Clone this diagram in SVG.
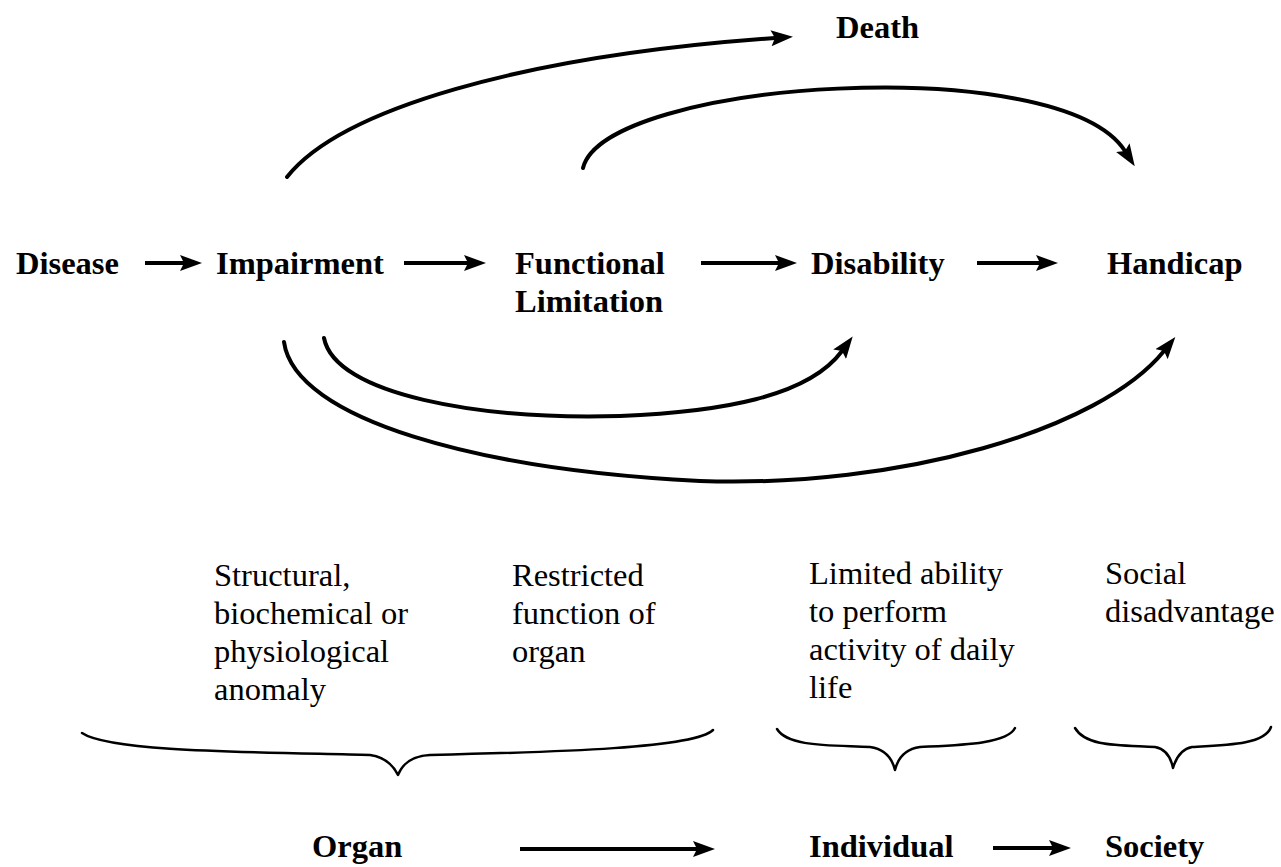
<svg xmlns="http://www.w3.org/2000/svg" width="1281" height="867" viewBox="0 0 1281 867">
<style>
.b{font-family:"Liberation Serif","Times New Roman",serif;font-weight:bold;font-size:32.5px;fill:#000}
.r{font-family:"Liberation Serif","Times New Roman",serif;font-size:32.5px;fill:#000}
.c{fill:none;stroke:#000;stroke-width:4;stroke-linecap:round}
.s{fill:none;stroke:#000;stroke-width:4}
.br{fill:none;stroke:#000;stroke-width:2.5;stroke-linecap:round;stroke-linejoin:round}
</style>
<defs>
<marker id="ah" viewBox="0 0 22 16" refX="4" refY="8" markerWidth="22" markerHeight="16" markerUnits="userSpaceOnUse" orient="auto">
<path d="M0,0 L22,8 L0,16 L4,8 z" fill="#000"/>
</marker>
</defs>
<rect width="1281" height="867" fill="#fff"/>
<g id="connectors">
<path class="c" d="M287,177 C340,110 520,56 775,38" marker-end="url(#ah)"/>
<path class="c" d="M583,168 C605,80 1060,50 1125,151" marker-end="url(#ah)"/>
<path class="c" d="M324,338 C335,395 480,420 620,416 C720,412 808,397 842,351" marker-end="url(#ah)"/>
<path class="c" d="M284,342 C295,420 480,470 700,481 C900,488 1100,430 1164,351" marker-end="url(#ah)"/>
<path class="s" d="M145,263 L184,263" marker-end="url(#ah)"/>
<path class="s" d="M404,263 L468,263" marker-end="url(#ah)"/>
<path class="s" d="M701,263 L779,263" marker-end="url(#ah)"/>
<path class="s" d="M977,263 L1040,263" marker-end="url(#ah)"/>
<path class="s" d="M520,849 L697,849" marker-end="url(#ah)"/>
<path class="s" d="M993,848 L1053,848" marker-end="url(#ah)"/>
</g>
<g id="braces">
<path class="br" d="M82,733 C110,752 250,752 370,755 C385,757 393,765 398,775 C403,763 412,756 430,755 C560,752 695,748 713,730"/>
<path class="br" d="M777,729 C788,747 830,745 870,747 C885,749 892,758 895,770 C898,758 905,749 920,747 C960,745 1007,744 1015,728"/>
<path class="br" d="M1075,728 C1086,747 1120,745 1155,747 C1166,749 1171,758 1173,768 C1176,758 1181,749 1192,747 C1230,745 1265,744 1271,727"/>
</g>
<g id="death"><text class="b" x="836" y="38">Death</text></g>
<g id="disease"><text class="b" x="16" y="274">Disease</text></g>
<g id="impairment"><text class="b" x="216" y="274">Impairment</text></g>
<g id="functional-limitation"><text class="b" x="515" y="274">Functional</text><text class="b" x="515" y="312">Limitation</text></g>
<g id="disability"><text class="b" x="811" y="274">Disability</text></g>
<g id="handicap"><text class="b" x="1107" y="274">Handicap</text></g>
<g id="desc-impairment"><text class="r" x="214" y="586">Structural,</text><text class="r" x="214" y="624">biochemical or</text><text class="r" x="214" y="662">physiological</text><text class="r" x="214" y="700">anomaly</text></g>
<g id="desc-functional"><text class="r" x="512" y="586">Restricted</text><text class="r" x="512" y="624">function of</text><text class="r" x="512" y="662">organ</text></g>
<g id="desc-disability"><text class="r" x="809" y="584">Limited ability</text><text class="r" x="809" y="622">to perform</text><text class="r" x="809" y="660">activity of daily</text><text class="r" x="809" y="698">life</text></g>
<g id="desc-handicap"><text class="r" x="1105" y="584">Social</text><text class="r" x="1105" y="622">disadvantage</text></g>
<g id="organ"><text class="b" x="312" y="857">Organ</text></g>
<g id="individual"><text class="b" x="809" y="857">Individual</text></g>
<g id="society"><text class="b" x="1105" y="857">Society</text></g>
</svg>
